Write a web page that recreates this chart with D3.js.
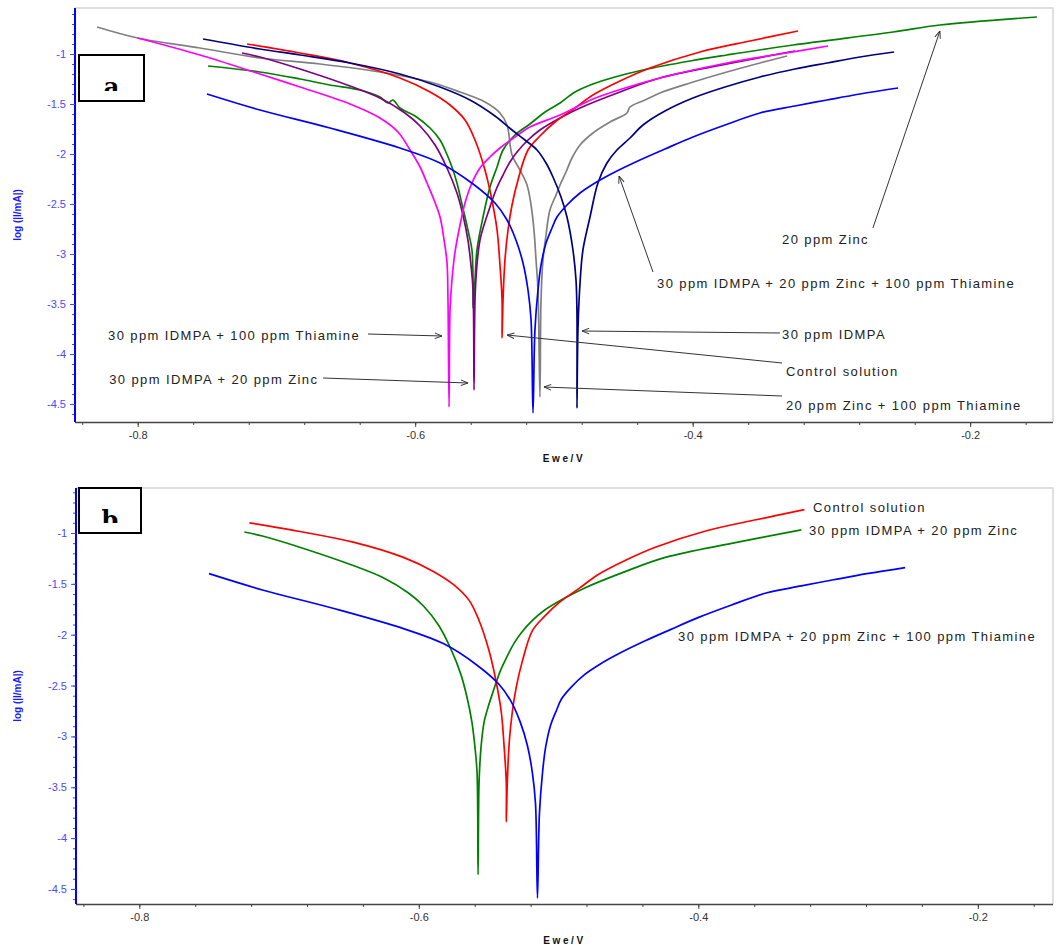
<!DOCTYPE html>
<html>
<head>
<meta charset="utf-8">
<script src="https://cdn.jsdelivr.net/npm/d3@7"></script>
<style>
  body { margin: 0; background: #fff; }
  text { font-family: "Liberation Sans", Arial, sans-serif; }
</style>
</head>
<body>
<div id="container"></div>
<script>
// Tafel curves: [Ewe/V, log(|I/mA|)]
const controlSolution = [
  [-0.7212,-0.90],[-0.6830,-0.99],[-0.6470,-1.09],[-0.6110,-1.24],[-0.5893,-1.38],[-0.5749,-1.51],
  [-0.5641,-1.66],[-0.5569,-1.86],[-0.5497,-2.16],[-0.5447,-2.46],[-0.5410,-2.76],[-0.5389,-3.11],
  [-0.5374,-3.46],[-0.5374,-3.84],[-0.5367,-3.46],[-0.5353,-3.06],[-0.5331,-2.76],[-0.5302,-2.51],
  [-0.5259,-2.26],[-0.5187,-1.96],[-0.5101,-1.82],[-0.4992,-1.68],[-0.4848,-1.54],[-0.4719,-1.41],
  [-0.4524,-1.27],[-0.4308,-1.14],[-0.3947,-0.98],[-0.3587,-0.87],[-0.3241,-0.77]
];
const zinc20 = [
  [-0.7493,-1.12],[-0.7119,-1.18],[-0.6830,-1.25],[-0.6614,-1.31],[-0.6398,-1.36],[-0.6254,-1.43],
  [-0.6196,-1.49],[-0.6160,-1.46],[-0.6110,-1.54],[-0.6001,-1.62],[-0.5893,-1.74],[-0.5821,-1.86],
  [-0.5785,-1.96],[-0.5735,-2.13],[-0.5699,-2.29],[-0.5670,-2.46],[-0.5641,-2.63],[-0.5612,-2.81],
  [-0.5591,-2.96],[-0.5583,-3.29],[-0.5583,-3.54],[-0.5569,-3.26],[-0.5555,-2.96],[-0.5511,-2.63],
  [-0.5461,-2.33],[-0.5410,-2.13],[-0.5367,-1.96],[-0.5281,-1.81],[-0.5173,-1.70],[-0.5064,-1.58],
  [-0.4956,-1.49],[-0.4848,-1.38],[-0.4719,-1.30],[-0.4560,-1.23],[-0.4358,-1.16],[-0.4019,-1.07],
  [-0.3753,-1.01],[-0.3277,-0.91],[-0.2556,-0.78],[-0.2218,-0.71],[-0.1519,-0.63]
];
const idmpa30 = [
  [-0.7529,-0.85],[-0.7119,-0.95],[-0.6830,-1.01],[-0.6470,-1.09],[-0.6110,-1.20],[-0.5821,-1.33],
  [-0.5605,-1.46],[-0.5425,-1.62],[-0.5302,-1.76],[-0.5209,-1.86],[-0.5122,-1.96],[-0.5057,-2.09],
  [-0.5007,-2.23],[-0.4949,-2.43],[-0.4906,-2.63],[-0.4863,-2.96],[-0.4841,-3.26],[-0.4834,-3.59],
  [-0.4834,-4.54],[-0.4827,-3.76],[-0.4812,-3.29],[-0.4791,-2.96],[-0.4740,-2.63],[-0.4683,-2.29],
  [-0.4618,-2.09],[-0.4546,-1.96],[-0.4452,-1.84],[-0.4358,-1.71],[-0.4200,-1.57],[-0.3998,-1.44],
  [-0.3767,-1.33],[-0.3515,-1.23],[-0.3263,-1.15],[-0.3032,-1.09],[-0.2794,-1.03],[-0.2549,-0.98]
];
const zincThiamine = [
  [-0.8293,-0.73],[-0.8000,-0.84],[-0.7551,-0.94],[-0.7119,-1.04],[-0.6686,-1.10],[-0.6254,-1.18],
  [-0.5893,-1.28],[-0.5677,-1.38],[-0.5497,-1.48],[-0.5389,-1.59],[-0.5338,-1.71],[-0.5302,-2.01],
  [-0.5245,-2.16],[-0.5194,-2.31],[-0.5165,-2.51],[-0.5144,-2.76],[-0.5129,-3.06],[-0.5115,-3.36],
  [-0.5101,-4.43],[-0.5093,-3.46],[-0.5079,-3.06],[-0.5057,-2.81],[-0.5029,-2.56],[-0.4985,-2.41],
  [-0.4956,-2.31],[-0.4913,-2.18],[-0.4870,-2.04],[-0.4812,-1.91],[-0.4719,-1.79],[-0.4596,-1.68],
  [-0.4474,-1.59],[-0.4452,-1.53],[-0.4344,-1.46],[-0.4236,-1.39],[-0.4019,-1.29],[-0.3753,-1.18],
  [-0.3515,-1.09],[-0.3320,-1.02]
];
const idmpaThiamine = [
  [-0.8000,-0.84],[-0.7551,-1.01],[-0.7119,-1.20],[-0.6830,-1.33],[-0.6470,-1.50],[-0.6254,-1.64],
  [-0.6124,-1.78],[-0.6037,-1.96],[-0.5965,-2.13],[-0.5915,-2.29],[-0.5864,-2.46],[-0.5821,-2.63],
  [-0.5792,-2.86],[-0.5771,-3.08],[-0.5764,-3.43],[-0.5756,-4.53],[-0.5749,-3.56],[-0.5735,-3.26],
  [-0.5713,-2.98],[-0.5677,-2.71],[-0.5641,-2.49],[-0.5591,-2.29],[-0.5533,-2.14],[-0.5461,-2.03],
  [-0.5389,-1.94],[-0.5281,-1.83],[-0.5173,-1.73],[-0.4956,-1.61],[-0.4719,-1.45],[-0.4488,-1.34],
  [-0.4236,-1.24],[-0.3753,-1.09],[-0.3371,-1.00],[-0.3025,-0.92]
];
const idmpaZinc = [
  [-0.7248,-0.99],[-0.7119,-1.03],[-0.6830,-1.15],[-0.6470,-1.32],[-0.6254,-1.44],[-0.6074,-1.59],
  [-0.5965,-1.72],[-0.5857,-1.91],[-0.5771,-2.14],[-0.5699,-2.39],[-0.5656,-2.61],[-0.5620,-2.86],
  [-0.5598,-3.11],[-0.5583,-3.36],[-0.5576,-4.36],[-0.5569,-3.46],[-0.5555,-3.11],[-0.5533,-2.86],
  [-0.5497,-2.68],[-0.5461,-2.53],[-0.5418,-2.36],[-0.5374,-2.23],[-0.5317,-2.08],[-0.5266,-1.98],
  [-0.5187,-1.86],[-0.5101,-1.76],[-0.4956,-1.64],[-0.4812,-1.54],[-0.4524,-1.38],[-0.4236,-1.24],
  [-0.3753,-1.10],[-0.3263,-0.97]
];
const idmpaZincThiamine = [
  [-0.7501,-1.40],[-0.7119,-1.56],[-0.6614,-1.74],[-0.6110,-1.94],[-0.5821,-2.09],[-0.5583,-2.30],
  [-0.5425,-2.49],[-0.5338,-2.66],[-0.5274,-2.86],[-0.5223,-3.09],[-0.5187,-3.36],[-0.5165,-3.66],
  [-0.5151,-4.59],[-0.5137,-3.76],[-0.5115,-3.36],[-0.5093,-3.11],[-0.5057,-2.89],[-0.5014,-2.74],
  [-0.4978,-2.63],[-0.4906,-2.51],[-0.4812,-2.39],[-0.4704,-2.29],[-0.4574,-2.19],[-0.4380,-2.06],
  [-0.4200,-1.95],[-0.3998,-1.83],[-0.3767,-1.71],[-0.3515,-1.59],[-0.3263,-1.52],[-0.3032,-1.46],
  [-0.2794,-1.40],[-0.2520,-1.34]
];

const xMajorTicks = [-0.8, -0.6, -0.4, -0.2];
const yMajorTicks = [-1, -1.5, -2, -2.5, -3, -3.5, -4, -4.5];

// annotations: [label, textV, textLog, lineFromV, lineFromLog, tipV, tipLog]
const notesA = [
  ["20 ppm Zinc", -0.3356, -2.90, -0.2701, -2.74, -0.2218, -0.77],
  ["30 ppm IDMPA + 20 ppm Zinc + 100 ppm Thiamine", -0.4257, -3.34, -0.4286, -3.18, -0.4531, -2.22],
  ["30 ppm IDMPA", -0.3356, -3.85, -0.3371, -3.79, -0.4798, -3.77],
  ["Control solution", -0.3328, -4.22, -0.3356, -4.09, -0.5338, -3.81],
  ["20 ppm Zinc + 100 ppm Thiamine", -0.3328, -4.56, -0.3356, -4.42, -0.5072, -4.33],
  ["30 ppm IDMPA + 100 ppm Thiamine", -0.8214, -3.86, -0.634, -3.80, -0.5807, -3.82],
  ["30 ppm IDMPA + 20 ppm Zinc", -0.8206, -4.30, -0.6664, -4.24, -0.5619, -4.29]
];
const notesB = [
  ["Control solution", -0.3179, -0.79],
  ["30 ppm IDMPA + 20 ppm Zinc", -0.3208, -1.02],
  ["30 ppm IDMPA + 20 ppm Zinc + 100 ppm Thiamine", -0.4145, -2.06]
];

const w = 1056;
const h = 945;
const svg = d3.select("#container")
  .append("svg")
  .attr("width", w)
  .attr("height", h);

svg.append("defs").append("marker")
  .attr("id", "arrow")
  .attr("viewBox", "0 0 10 10")
  .attr("refX", 10).attr("refY", 5)
  .attr("markerWidth", 8).attr("markerHeight", 8)
  .attr("markerUnits", "userSpaceOnUse")
  .attr("orient", "auto")
  .append("path")
  .attr("d", "M1,1.5 L10,5 L1,8.5")
  .attr("fill", "none")
  .attr("stroke", "#333")
  .attr("stroke-width", 1.2);

function drawPanel(p) {
  const x = d3.scaleLinear().domain(p.xDomain).range([p.left, p.right]);
  const y = d3.scaleLinear().domain(p.yDomain).range([p.top, p.bottom]);
  const g = svg.append("g");

  // frame top + right
  g.append("path")
    .attr("d", `M${p.left},${p.top}H${p.right}V${p.bottom}`)
    .attr("fill", "none")
    .attr("stroke", "#d6d6d6")
    .attr("stroke-width", 1.5);

  // x axis
  const xMinor = g.append("g")
    .attr("transform", "translate(0," + p.bottom + ")")
    .call(d3.axisBottom(x).tickValues(d3.range(-0.84, -0.13, 0.04)).tickSize(3).tickSizeOuter(0).tickFormat(""));
  xMinor.select(".domain").remove();
  xMinor.selectAll("line").attr("stroke", "#444");
  const xAx = g.append("g")
    .attr("transform", "translate(0," + p.bottom + ")")
    .call(d3.axisBottom(x).tickValues(xMajorTicks).tickSize(5).tickSizeOuter(0).tickPadding(4)
      .tickFormat((d) => d.toFixed(1)));
  xAx.select(".domain").attr("stroke", "#444").attr("stroke-width", 1.5)
    .attr("d", `M${p.left},0.5H${p.right}`);
  xAx.selectAll("line").attr("stroke", "#444");
  xAx.selectAll("text").attr("fill", "#333").style("font-size", "11px")
    .style("font-family", "'Liberation Sans', Arial, sans-serif");

  // y axis
  const yMinor = g.append("g")
    .attr("transform", "translate(" + p.left + ",0)")
    .call(d3.axisLeft(y).tickValues(d3.range(-4.6, -0.55, 0.1)).tickSize(3).tickSizeOuter(0).tickFormat(""));
  yMinor.select(".domain").remove();
  yMinor.selectAll("line").attr("stroke", "#4444ff");
  const yAx = g.append("g")
    .attr("transform", "translate(" + p.left + ",0)")
    .call(d3.axisLeft(y).tickValues(yMajorTicks).tickSize(5).tickSizeOuter(0).tickPadding(4)
      .tickFormat((d) => String(d)));
  yAx.select(".domain").attr("stroke", "#0000ff").attr("stroke-width", 2)
    .attr("d", `M0,${p.top}V${p.bottom}`);
  yAx.selectAll("line").attr("stroke", "#4444ff");
  yAx.selectAll("text").attr("fill", "#4a4aff").style("font-size", "11px")
    .style("font-family", "'Liberation Sans', Arial, sans-serif");

  // axis titles
  g.append("text")
    .attr("transform", `translate(21,${(p.top + p.bottom) / 2}) rotate(-90)`)
    .attr("text-anchor", "middle")
    .attr("fill", "#1a1aff")
    .style("font-size", "10px")
    .style("font-weight", "bold")
    .text("log (|I/mA|)");
  g.append("text")
    .attr("x", (p.left + p.right) / 2)
    .attr("y", p.bottom + 40)
    .attr("text-anchor", "middle")
    .attr("fill", "#111")
    .style("font-size", "10px")
    .style("font-weight", "bold")
    .style("letter-spacing", "2.6px")
    .text("Ewe/V");

  // curves
  const line = d3.line()
    .x((d) => x(d[0]))
    .y((d) => y(d[1]))
    .curve(d3.curveCatmullRom.alpha(0.5));
  p.series.forEach((s) => {
    g.append("path")
      .datum(s.data)
      .attr("d", line)
      .attr("fill", "none")
      .attr("stroke", s.color)
      .attr("stroke-width", 1.7)
      .attr("stroke-linejoin", "round");
  });

  // panel letter box
  const clipId = "clip" + p.letter;
  svg.append("clipPath").attr("id", clipId)
    .append("rect").attr("x", p.box[0]).attr("y", p.box[1])
    .attr("width", p.box[2]).attr("height", p.box[4]);
  g.append("rect")
    .attr("x", p.box[0]).attr("y", p.box[1])
    .attr("width", p.box[2]).attr("height", p.box[3])
    .attr("fill", "#fff").attr("stroke", "#000").attr("stroke-width", 2);
  g.append("text")
    .attr("x", p.box[0] + p.box[2] / 2)
    .attr("y", p.box[5])
    .attr("text-anchor", "middle")
    .attr("clip-path", `url(#${clipId})`)
    .style("font-family", "'DejaVu Serif', 'Liberation Serif', serif")
    .style("font-weight", "bold")
    .style("font-size", "24px")
    .text(p.letter);

  return { x, y, g };
}

const panelA = drawPanel({
  top: 8, bottom: 422, left: 75, right: 1053,
  xDomain: [-0.8452, -0.1403], yDomain: [-0.54, -4.68],
  letter: "a", box: [79, 55, 65, 46, 36, 95],
  series: [
    { data: zincThiamine, color: "#808080" },
    { data: zinc20, color: "#008000" },
    { data: idmpaZinc, color: "#800080" },
    { data: controlSolution, color: "#ff0000" },
    { data: idmpaThiamine, color: "#ff00ff" },
    { data: idmpa30, color: "#000080" },
    { data: idmpaZincThiamine, color: "#0000ff" }
  ]
});

notesA.forEach((n) => {
  panelA.g.append("line")
    .attr("x1", panelA.x(n[3])).attr("y1", panelA.y(n[4]))
    .attr("x2", panelA.x(n[5])).attr("y2", panelA.y(n[6]))
    .attr("stroke", "#333").attr("stroke-width", 1)
    .attr("marker-end", "url(#arrow)");
  panelA.g.append("text")
    .attr("x", panelA.x(n[1])).attr("y", panelA.y(n[2]))
    .attr("fill", "#222")
    .style("font-size", "13px")
    .style("letter-spacing", "1.4px")
    .text(n[0]);
});

const panelB = drawPanel({
  top: 488, bottom: 904, left: 76, right: 1053,
  xDomain: [-0.8453, -0.1462], yDomain: [-0.5575, -4.648],
  letter: "b", box: [79, 488, 62, 45, 35, 528],
  series: [
    { data: idmpaZinc, color: "#008000" },
    { data: controlSolution, color: "#ff0000" },
    { data: idmpaZincThiamine, color: "#0000ff" }
  ]
});

notesB.forEach((n) => {
  panelB.g.append("text")
    .attr("x", panelB.x(n[1])).attr("y", panelB.y(n[2]))
    .attr("fill", "#222")
    .style("font-size", "13px")
    .style("letter-spacing", "1.4px")
    .text(n[0]);
});
</script>
</body>
</html>
